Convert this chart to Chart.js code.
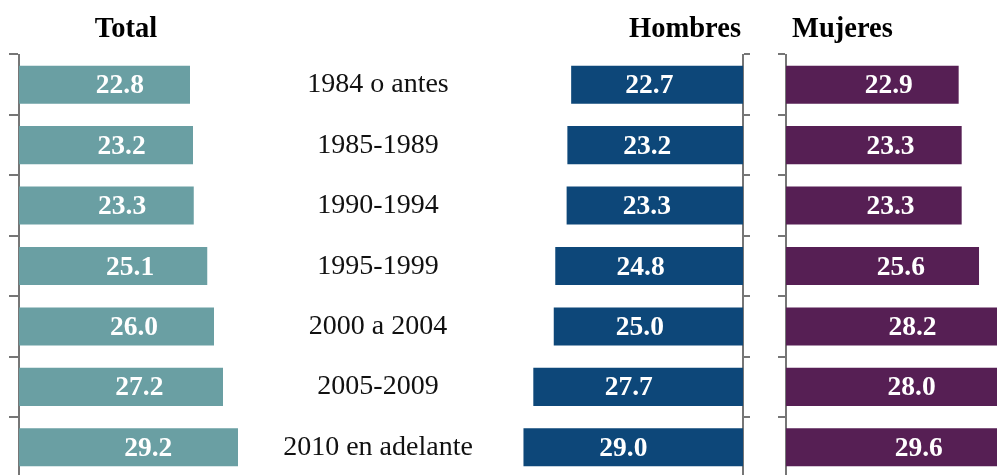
<!DOCTYPE html>
<html><head><meta charset="utf-8">
<script src="https://cdn.jsdelivr.net/npm/chart.js@4/dist/chart.umd.min.js"></script>
<style>
html,body{margin:0;padding:0;background:#fff;overflow:hidden;}
#wrap{position:relative;width:997px;height:475px;overflow:hidden;background:#fff;}
canvas{position:absolute;left:0;top:0;}
</style></head><body>
<div id="wrap">
<canvas id="cTotal" width="1030" height="490"></canvas>
<canvas id="cHom" width="1030" height="490"></canvas>
<canvas id="cMuj" width="1030" height="490"></canvas>
</div>
<script>
const categories = ['1984 o antes','1985-1989','1990-1994','1995-1999','2000 a 2004','2005-2009','2010 en adelante'];
const totalValues = [22.8,23.2,23.3,25.1,26.0,27.2,29.2];
const hombresValues = [22.7,23.2,23.3,24.8,25.0,27.7,29.0];
const mujeresValues = [22.9,23.3,23.3,25.6,28.2,28.0,29.6];
const panelTitles = ['Total','Hombres','Mujeres'];

const SERIF = "'Liberation Serif','Times New Roman',serif";
const AXIS_COLOR = '#767676';

const valueLabels = {
  id: 'valueLabels',
  afterDatasetsDraw(chart, args, opts) {
    const ctx = chart.ctx;
    const xs = chart.scales.x;
    const meta = chart.getDatasetMeta(0);
    const data = chart.data.datasets[0].data;
    ctx.save();
    ctx.fillStyle = '#ffffff';
    ctx.font = 'bold 27.5px ' + SERIF;
    ctx.textAlign = 'center';
    ctx.textBaseline = 'alphabetic';
    meta.data.forEach((el, i) => {
      const x = xs.getPixelForValue(data[i] * opts.frac);
      ctx.fillText(data[i].toFixed(1), x, el.y + 8.5);
    });
    ctx.restore();
  }
};

const sideText = {
  id: 'sideText',
  afterDraw(chart) {
    const ctx = chart.ctx;
    const ys = chart.scales.y;
    ctx.save();
    ctx.fillStyle = '#111111';
    ctx.font = '28px ' + SERIF;
    ctx.textAlign = 'center';
    ctx.textBaseline = 'alphabetic';
    categories.forEach((c, i) => {
      ctx.fillText(c, 378, ys.getPixelForValue(i) + 7.5);
    });
    ctx.font = 'bold 28.5px ' + SERIF;
    ctx.fillStyle = '#000000';
    ctx.textAlign = 'center';
    ctx.fillText(panelTitles[0], 126, 37);
    ctx.textAlign = 'right';
    ctx.fillText(panelTitles[1], 741, 37);
    ctx.textAlign = 'left';
    ctx.fillText(panelTitles[2], 792, 37);
    ctx.restore();
  }
};

function makeChart(id, values, color, cfg) {
  return new Chart(document.getElementById(id), {
    type: 'bar',
    data: {
      labels: categories,
      datasets: [{
        data: values,
        backgroundColor: color,
        borderWidth: 0,
        barPercentage: 0.63,
        categoryPercentage: 1.0
      }]
    },
    options: {
      indexAxis: 'y',
      responsive: false,
      animation: false,
      devicePixelRatio: 1,
      layout: { padding: cfg.padding },
      scales: {
        x: { display: false, min: 0, max: cfg.max, reverse: !!cfg.reverse },
        y: {
          position: cfg.yPos,
          ticks: { display: false },
          grid: { display: true, drawOnChartArea: false, drawTicks: true, tickLength: cfg.tick, color: AXIS_COLOR, lineWidth: 2 },
          border: { display: true, color: AXIS_COLOR, width: 2 }
        }
      },
      plugins: {
        legend: { display: false },
        tooltip: { enabled: false },
        valueLabels: { frac: cfg.frac }
      }
    },
    plugins: cfg.extra ? [valueLabels, sideText] : [valueLabels]
  });
}

makeChart('cTotal', totalValues, '#6a9fa3', {
  padding: { left: 9, top: 54.5, right: 770, bottom: 12.5 },
  max: 241 / 7.5, yPos: 'left', tick: 10, frac: 0.59, extra: true
});
makeChart('cHom', hombresValues, '#0d4779', {
  padding: { left: 743 - 7.57 * 40, top: 54.5, right: 280, bottom: 12.5 },
  max: 40, reverse: true, yPos: 'right', tick: 7, frac: 0.545
});
makeChart('cMuj', mujeresValues, '#561f54', {
  padding: { left: 778, top: 54.5, right: 1030 - (786 + 7.54 * 32), bottom: 12.5 },
  max: 32, yPos: 'left', tick: 8, frac: 0.595
});
</script>
</body></html>
